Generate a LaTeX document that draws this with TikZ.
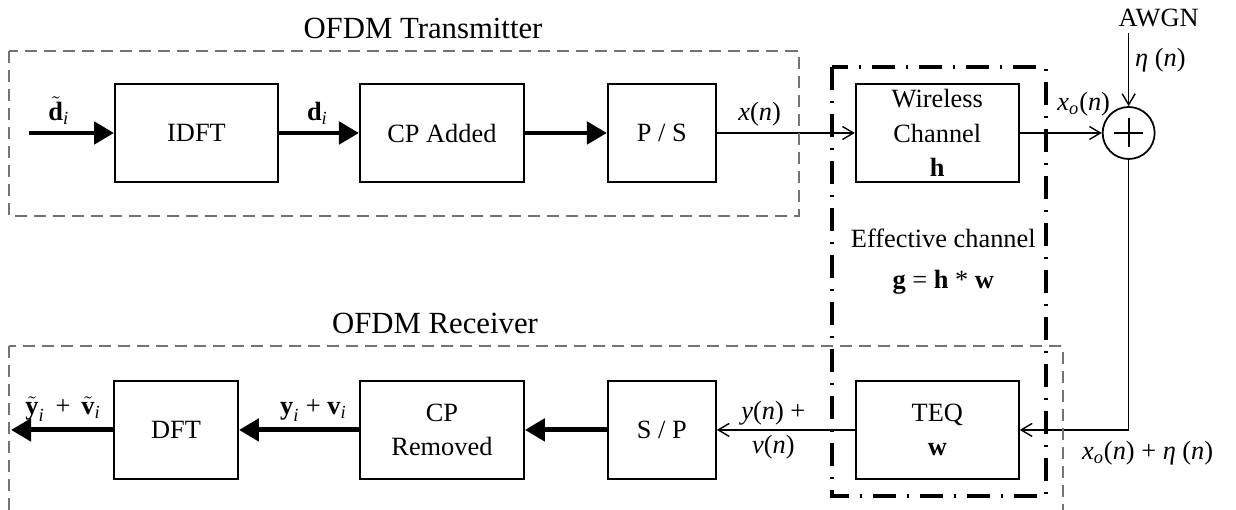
\documentclass[tikz,border=0pt]{standalone}
\usepackage{amsmath}
\usepackage{fontspec}
\setmainfont{Liberation Serif}
\usetikzlibrary{arrows.meta,positioning,calc}

\begin{document}
\begin{tikzpicture}[
    font=\fontsize{15}{19.5}\selectfont,
    box/.style={
        draw,
        line width=1.1pt,
        minimum height=1.96cm,
        inner sep=1pt,
        align=center
    },
    adder/.style={
        circle, draw, line width=1pt,
        minimum size=1.04cm, inner sep=0pt,
        path picture={\draw[line width=1.3pt]
            (path picture bounding box.center) +(-0.29,0) -- +(0.29,0)
            (path picture bounding box.center) +(0,-0.29) -- +(0,0.29);}
    },
    sig/.style={-{Straight Barb[length=2.2mm,width=2.6mm]}, line width=0.8pt},
    bus/.style={-{Triangle[length=4mm,width=4.4mm]}, line width=2.8pt},
    group/.style={draw=black!55, line width=1.2pt, dash pattern=on 0.24cm off 0.14cm},
    effbox/.style={draw, line width=2pt, dash pattern=on 0.46cm off 0.22cm on 0.04cm off 0.22cm},
    title/.style={font=\fontsize{17.5}{20}\selectfont}
]
\useasboundingbox (0,0) rectangle (24.72,10.2);

% transmitter
\node[box, minimum width=3.26cm] (idft) at (3.93,7.54) {IDFT};
\node[box, minimum width=3.28cm, right=1.6cm of idft] (cpadd) {CP Added};
\node[box, minimum width=2.16cm, right=1.64cm of cpadd] (ps) {P / S};
\node[box, minimum width=3.26cm, right=2.76cm of ps] (wch) {Wireless\\Channel\\\textbf{h}};
\node[adder, right=1.64cm of wch] (sum) {};

% receiver
\node[box, minimum width=3.26cm, below=3.94cm of wch] (teq) {TEQ\\\textbf{w}};
\node[box, minimum width=2.16cm, left=2.76cm of teq] (sp) {S / P};
\node[box, minimum width=3.28cm, left=1.64cm of sp] (cprem) {CP\\Removed};
\node[box, minimum width=2.48cm, left=2.4cm of cprem] (dft) {DFT};

\coordinate[left=1.7cm of idft.west] (din);
\coordinate[left=2.04cm of dft.west] (yout);
\coordinate[above=1.46cm of sum.north] (noise);
\node[above=0pt of noise, xshift=0.6cm] (awgn) {AWGN};

\draw[bus] (din) -- node[above, pos=0.35] {$\tilde{\textbf{d}}_{\textit{i}}$} (idft);
\draw[bus] (idft) -- node[above, pos=0.48] {$\textbf{d}_{\textit{i}}$} (cpadd);
\draw[bus] (cpadd) -- (ps);
\draw[sig] (ps) -- node[above, pos=0.31] {\textit{x}(\textit{n})} (wch);
\draw[sig] (wch) -- node[above=0.2cm, pos=0.78] {\textit{x}$_{\textit{o}}$(\textit{n})} (sum);
\draw[sig] (noise) -- node[right, pos=0.37] {\textit{η} (\textit{n})} (sum);
\draw[sig] (sum) |- node[pos=0.5, below, xshift=0.38cm, yshift=-0.1cm]
    {\textit{x}$_{\textit{o}}$(\textit{n}) + \textit{η} (\textit{n})} (teq);
\draw[sig] (teq) -- node[pos=0.59, align=center] {\textit{y}(\textit{n}) +\\\textit{v}(\textit{n})} (sp);
\draw[bus] (sp) -- (cprem);
\draw[bus] (cprem) -- node[above, pos=0.38]
    {$\textbf{y}_{\textit{i}}$ + $\textbf{v}_{\textit{i}}$} (dft);
\draw[bus] (dft) -- node[above, pos=0.49]
    {$\tilde{\textbf{y}}_{\textit{i}}$\, + \,$\tilde{\textbf{v}}_{\textit{i}}$} (yout);

% groups
\draw[group] ($(idft.north west)+(-2.1,0.64)$) rectangle ($(ps.south east)+(1.64,-0.66)$);
\draw[group] ($(dft.north west)+(-2.08,0.68)$) rectangle ($(teq.south east)+(0.86,-0.64)$);
\draw[effbox] ($(wch.north west)+(-0.46,0.32)$) rectangle ($(teq.south east)+(0.52,-0.32)$);
\node[align=center, xshift=0.12cm] (eff) at ($(wch.south)!0.4!(teq.north)$)
    {Effective channel\\[4pt]\textbf{g} = \textbf{h} * \textbf{w}};

\node[title] (txtitle) at (8.46,9.64) {OFDM Transmitter};
\node[title] (rxtitle) at (8.7,3.74) {OFDM Receiver};
\end{tikzpicture}
\end{document}
